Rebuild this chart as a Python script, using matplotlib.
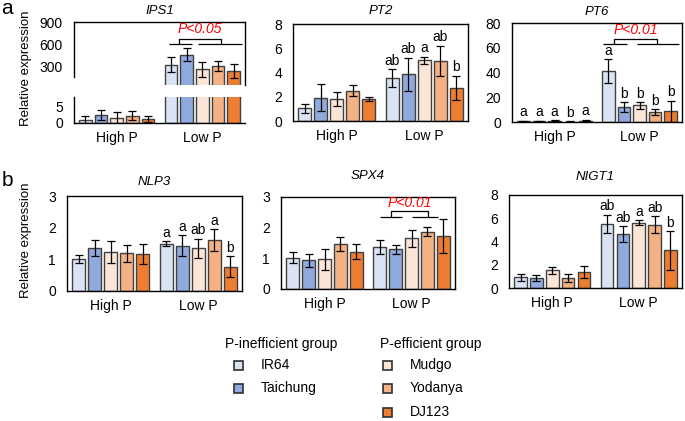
import numpy as np
import matplotlib.pyplot as plt
from matplotlib.patches import Rectangle

plt.rcParams['font.family'] = ['Liberation Sans', 'DejaVu Sans']
plt.rcParams['font.size'] = 9.5

cultivars = ["IR64", "Taichung", "Mudgo", "Yodanya", "DJ123"]
colors = ["#dae3f3", "#8faadc", "#fbe5d6", "#f4b183", "#ed7d31"]
conditions = ["High P", "Low P"]

# rows: High P, Low P / columns: cultivars
ips1_mean = [[1.0, 2.5, 1.5, 2.3, 1.2], [330, 465, 272, 315, 250]]
ips1_err = [[1.3, 1.5, 2.0, 1.5, 1.0], [100, 85, 100, 65, 90]]
pt2_mean = [[1.04, 1.92, 1.81, 2.5, 1.81], [3.52, 3.87, 5.0, 4.97, 2.75]]
pt2_err = [[0.38, 1.1, 0.6, 0.45, 0.2], [0.75, 1.36, 0.3, 1.24, 1.0]]
pt6_mean = [[0.8, 0.8, 1.0, 0.3, 1.2], [41.2, 12.2, 13.5, 8.1, 8.7]]
pt6_err = [[0.4, 0.4, 0.5, 0.2, 0.6], [9.5, 3.8, 2.7, 2.4, 8.4]]
nlp3_mean = [[1.0, 1.35, 1.24, 1.19, 1.16], [1.5, 1.43, 1.35, 1.61, 0.77]]
nlp3_err = [[0.13, 0.26, 0.34, 0.26, 0.32], [0.07, 0.34, 0.3, 0.34, 0.32]]
spx4_mean = [[1.02, 0.93, 0.97, 1.46, 1.22], [1.38, 1.29, 1.65, 1.87, 1.73]]
spx4_err = [[0.18, 0.2, 0.34, 0.23, 0.24], [0.23, 0.15, 0.27, 0.14, 0.55]]
nigt1_mean = [[0.94, 0.86, 1.51, 0.86, 1.37], [5.51, 4.63, 5.63, 5.43, 3.23]]
nigt1_err = [[0.3, 0.28, 0.33, 0.38, 0.5], [0.78, 0.67, 0.2, 0.73, 1.64]]

pt2_letters = [None, ["ab", "ab", "a", "ab", "b"]]
pt6_letters = [["a", "a", "a", "b", "a"], ["a", "b", "b", "b", "b"]]
nlp3_letters = [None, ["a", "a", "ab", "a", "b"]]
nigt1_letters = [None, ["ab", "ab", "a", "ab", "b"]]

W, H = 685, 421
pitch, width = 0.183, 0.148
x = np.arange(len(conditions))


def box(x1, y1, x2, y2):
    return [x1 / W, 1 - y2 / H, (x2 - x1) / W, (y2 - y1) / H]


def style(ax, ylim, yticks, title=None, tpad=6, show_x=True):
    ax.set_xlim(-0.5, 1.5)
    ax.set_ylim(*ylim)
    ax.set_yticks(yticks)
    ax.tick_params(length=0, pad=8, labelsize=10)
    if show_x:
        ax.set_xticks(x)
        ax.set_xticklabels(conditions)
        ax.tick_params(axis='x', pad=6)
    else:
        ax.set_xticks([])
    for s in ax.spines.values():
        s.set_linewidth(1.0)
    if title:
        ax.set_title(title, style='italic', fontsize=9.5, pad=tpad)


def draw_bars(ax, mean, err, letters=None):
    mean = np.array(mean)
    err = np.array(err)
    for i in range(len(cultivars)):
        xs = x + (i - 2) * pitch
        ax.bar(xs, mean[:, i], width, color=colors[i], edgecolor='#404040',
               linewidth=1.0, zorder=2)
        ax.errorbar(xs, mean[:, i], yerr=err[:, i], fmt='none', ecolor='black',
                    elinewidth=0.9, capsize=3, capthick=0.9, zorder=3)
    if letters:
        for c, labs in enumerate(letters):
            if labs is None:
                continue
            for i, lab in enumerate(labs):
                ax.annotate(lab, (x[c] + (i - 2) * pitch, mean[c, i] + err[c, i]),
                            xytext=(0, 1), textcoords='offset points',
                            ha='center', va='bottom', fontsize=10)


def bracket(ax, text, l1, l2, conn, y_line, y_conn, y_text):
    pos = lambda idx: 1 + (idx - 2) * pitch
    kw = dict(color='black', lw=0.9, solid_capstyle='butt', clip_on=False)
    ax.plot([pos(l1[0]), pos(l1[1])], [y_line, y_line], **kw)
    ax.plot([pos(l2[0]), pos(l2[1])], [y_line, y_line], **kw)
    ax.plot([pos(conn[0]), pos(conn[0]), pos(conn[1]), pos(conn[1])],
            [y_line, y_conn, y_conn, y_line], **kw)
    ax.text((pos(conn[0]) + pos(conn[1])) / 2, y_text, text, color='red',
            style='italic', ha='center', va='center', fontsize=10)


fig = plt.figure(figsize=(6.85, 4.21), dpi=100)

# IPS1 with broken axis
ax_top = fig.add_axes(box(74, 22, 245, 85))
ax_bot = fig.add_axes(box(74, 97, 245, 123))
draw_bars(ax_top, ips1_mean, ips1_err)
draw_bars(ax_bot, ips1_mean, ips1_err)
style(ax_top, (60, 900), [300, 600, 900], "IPS1", tpad=6, show_x=False)
style(ax_bot, (0, 8.1), [0, 5])
ax_top.spines['bottom'].set_visible(False)
ax_top.spines['left'].set_bounds(167, 900)
ax_bot.spines['top'].set_visible(False)
ax_bot.spines['right'].set_visible(False)
bracket(ax_top, "P<0.05", (-0.15, 1.33), (1.71, 4.53), (0.49, 3.19), 607, 673, 807)

ax = fig.add_axes(box(293, 24, 468, 121))
draw_bars(ax, pt2_mean, pt2_err, pt2_letters)
style(ax, (0, 8), [0, 2, 4, 6, 8], "PT2", tpad=7)

ax = fig.add_axes(box(512, 23, 682, 122))
draw_bars(ax, pt6_mean, pt6_err, pt6_letters)
style(ax, (0, 80), [0, 20, 40, 60, 80], "PT6", tpad=6)
bracket(ax, "P<0.01", (-0.36, 1.21), (1.84, 4.52), (0.33, 3.15), 63, 67, 74)

ax = fig.add_axes(box(67, 196, 242, 291))
draw_bars(ax, nlp3_mean, nlp3_err, nlp3_letters)
style(ax, (0, 3), [0, 1, 2, 3], "NLP3", tpad=8)

ax = fig.add_axes(box(281, 197, 455, 289))
draw_bars(ax, spx4_mean, spx4_err)
style(ax, (0, 3), [0, 1, 2, 3], "SPX4", tpad=13)
bracket(ax, "P<0.01", (0.04, 1.41), (2.03, 3.65), (0.73, 3.02), 2.35, 2.54, 2.8)

ax = fig.add_axes(box(509, 195, 682, 288))
draw_bars(ax, nigt1_mean, nigt1_err, nigt1_letters)
style(ax, (0, 8), [0, 2, 4, 6, 8], "NIGT1", tpad=11)

# panel letters and y labels
fig.text(7 / W, 1 - 9 / H, "a", fontsize=15, ha='center', va='center')
fig.text(7 / W, 1 - 180 / H, "b", fontsize=15, ha='center', va='center')
fig.text(26 / W, 1 - 68 / H, "Relative expression", rotation=90, ha='center', va='center')
fig.text(26 / W, 1 - 240 / H, "Relative expression", rotation=90, ha='center', va='center')

# legend
fig.text(225 / W, 1 - 344 / H, "P-inefficient group", fontsize=10, va='center')
fig.text(380 / W, 1 - 344 / H, "P-efficient group", fontsize=10, va='center')
legend_pos = [(238, 365), (238, 388), (387, 365), (387, 388), (387, 412)]
for (cx, cy), name, col in zip(legend_pos, cultivars, colors):
    s = 9
    fig.add_artist(Rectangle(((cx - s / 2) / W, 1 - (cy + s / 2) / H), s / W, s / H,
                             facecolor=col, edgecolor='#303030', lw=1.2,
                             transform=fig.transFigure))
    fig.text((cx + 23) / W, 1 - cy / H, name, fontsize=10, va='center')

fig.savefig("out.png", dpi=100)
